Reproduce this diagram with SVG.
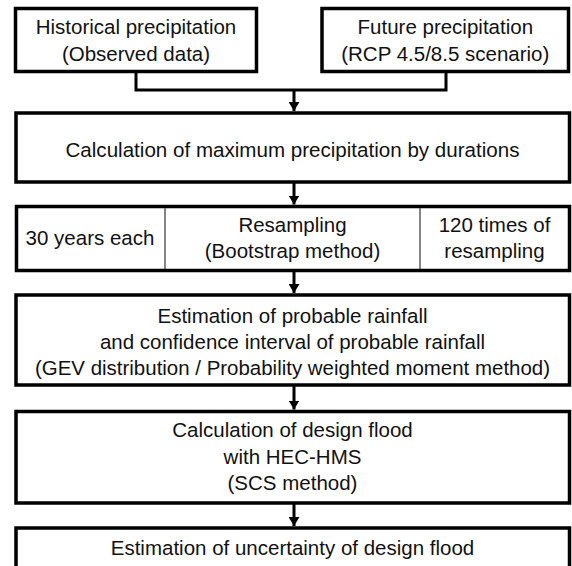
<svg xmlns="http://www.w3.org/2000/svg" width="572" height="566" viewBox="0 0 572 566">
<style>
.box{fill:#fff;stroke:#000;stroke-width:3.5}
.div{stroke:#444;stroke-width:1.3}
.t{font-family:"Liberation Sans",Arial,sans-serif;font-size:20.5px;fill:#111;text-anchor:middle}
.c{fill:none;stroke:#000;stroke-width:3}
</style>
<defs>
<marker id="ah" markerUnits="userSpaceOnUse" markerWidth="10" markerHeight="11" refX="9" refY="5.5" orient="auto">
<path d="M0,0 L9,5.5 L0,11 z" fill="#000"/>
</marker>
</defs>
<rect width="572" height="566" fill="#fff"/>
<g id="connectors">
<path class="c" d="M136,71.5 V90 H446 V71.5"/>
<line class="c" x1="294" y1="90" x2="294" y2="111" marker-end="url(#ah)"/>
<line class="c" x1="294" y1="182" x2="294" y2="204.5" marker-end="url(#ah)"/>
<line class="c" x1="294" y1="270.5" x2="294" y2="293" marker-end="url(#ah)"/>
<line class="c" x1="294" y1="385" x2="294" y2="409.5" marker-end="url(#ah)"/>
<line class="c" x1="294" y1="503" x2="294" y2="526" marker-end="url(#ah)"/>
</g>
<g id="historical">
<rect class="box" x="15.5" y="8.5" width="241" height="63"/>
<text class="t" x="136" y="34">Historical precipitation</text>
<text class="t" x="136" y="61">(Observed data)</text>
</g>
<g id="future">
<rect class="box" x="322" y="8.5" width="246.5" height="63"/>
<text class="t" x="445.3" y="34">Future precipitation</text>
<text class="t" x="445.3" y="61">(RCP 4.5/8.5 scenario)</text>
</g>
<g id="maxprecip">
<rect class="box" x="16" y="113" width="553.5" height="69"/>
<text class="t" x="292.5" y="157" textLength="454" lengthAdjust="spacingAndGlyphs">Calculation of maximum precipitation by durations</text>
</g>
<g id="resampling">
<rect class="box" x="16.5" y="206.5" width="553" height="64"/>
<line class="div" x1="165" y1="208" x2="165" y2="269"/>
<line class="div" x1="420" y1="208" x2="420" y2="269"/>
<text class="t" x="90" y="245">30 years each</text>
<text class="t" x="292.5" y="232">Resampling</text>
<text class="t" x="292.5" y="258">(Bootstrap method)</text>
<text class="t" x="494.5" y="232">120 times of</text>
<text class="t" x="494.5" y="258">resampling</text>
</g>
<g id="probable">
<rect class="box" x="16" y="295" width="553.5" height="90"/>
<text class="t" x="292.5" y="322.5">Estimation of probable rainfall</text>
<text class="t" x="292.5" y="348.5">and confidence interval of probable rainfall</text>
<text class="t" x="292.5" y="375" textLength="515" lengthAdjust="spacingAndGlyphs">(GEV distribution / Probability weighted moment method)</text>
</g>
<g id="designflood">
<rect class="box" x="16" y="411.5" width="553.5" height="91.5"/>
<text class="t" x="292.5" y="437">Calculation of design flood</text>
<text class="t" x="292.5" y="463.5">with HEC-HMS</text>
<text class="t" x="292.5" y="490">(SCS method)</text>
</g>
<g id="uncertainty">
<rect class="box" x="16" y="528" width="553.5" height="60"/>
<text class="t" x="292.5" y="555">Estimation of uncertainty of design flood</text>
</g>
</svg>
